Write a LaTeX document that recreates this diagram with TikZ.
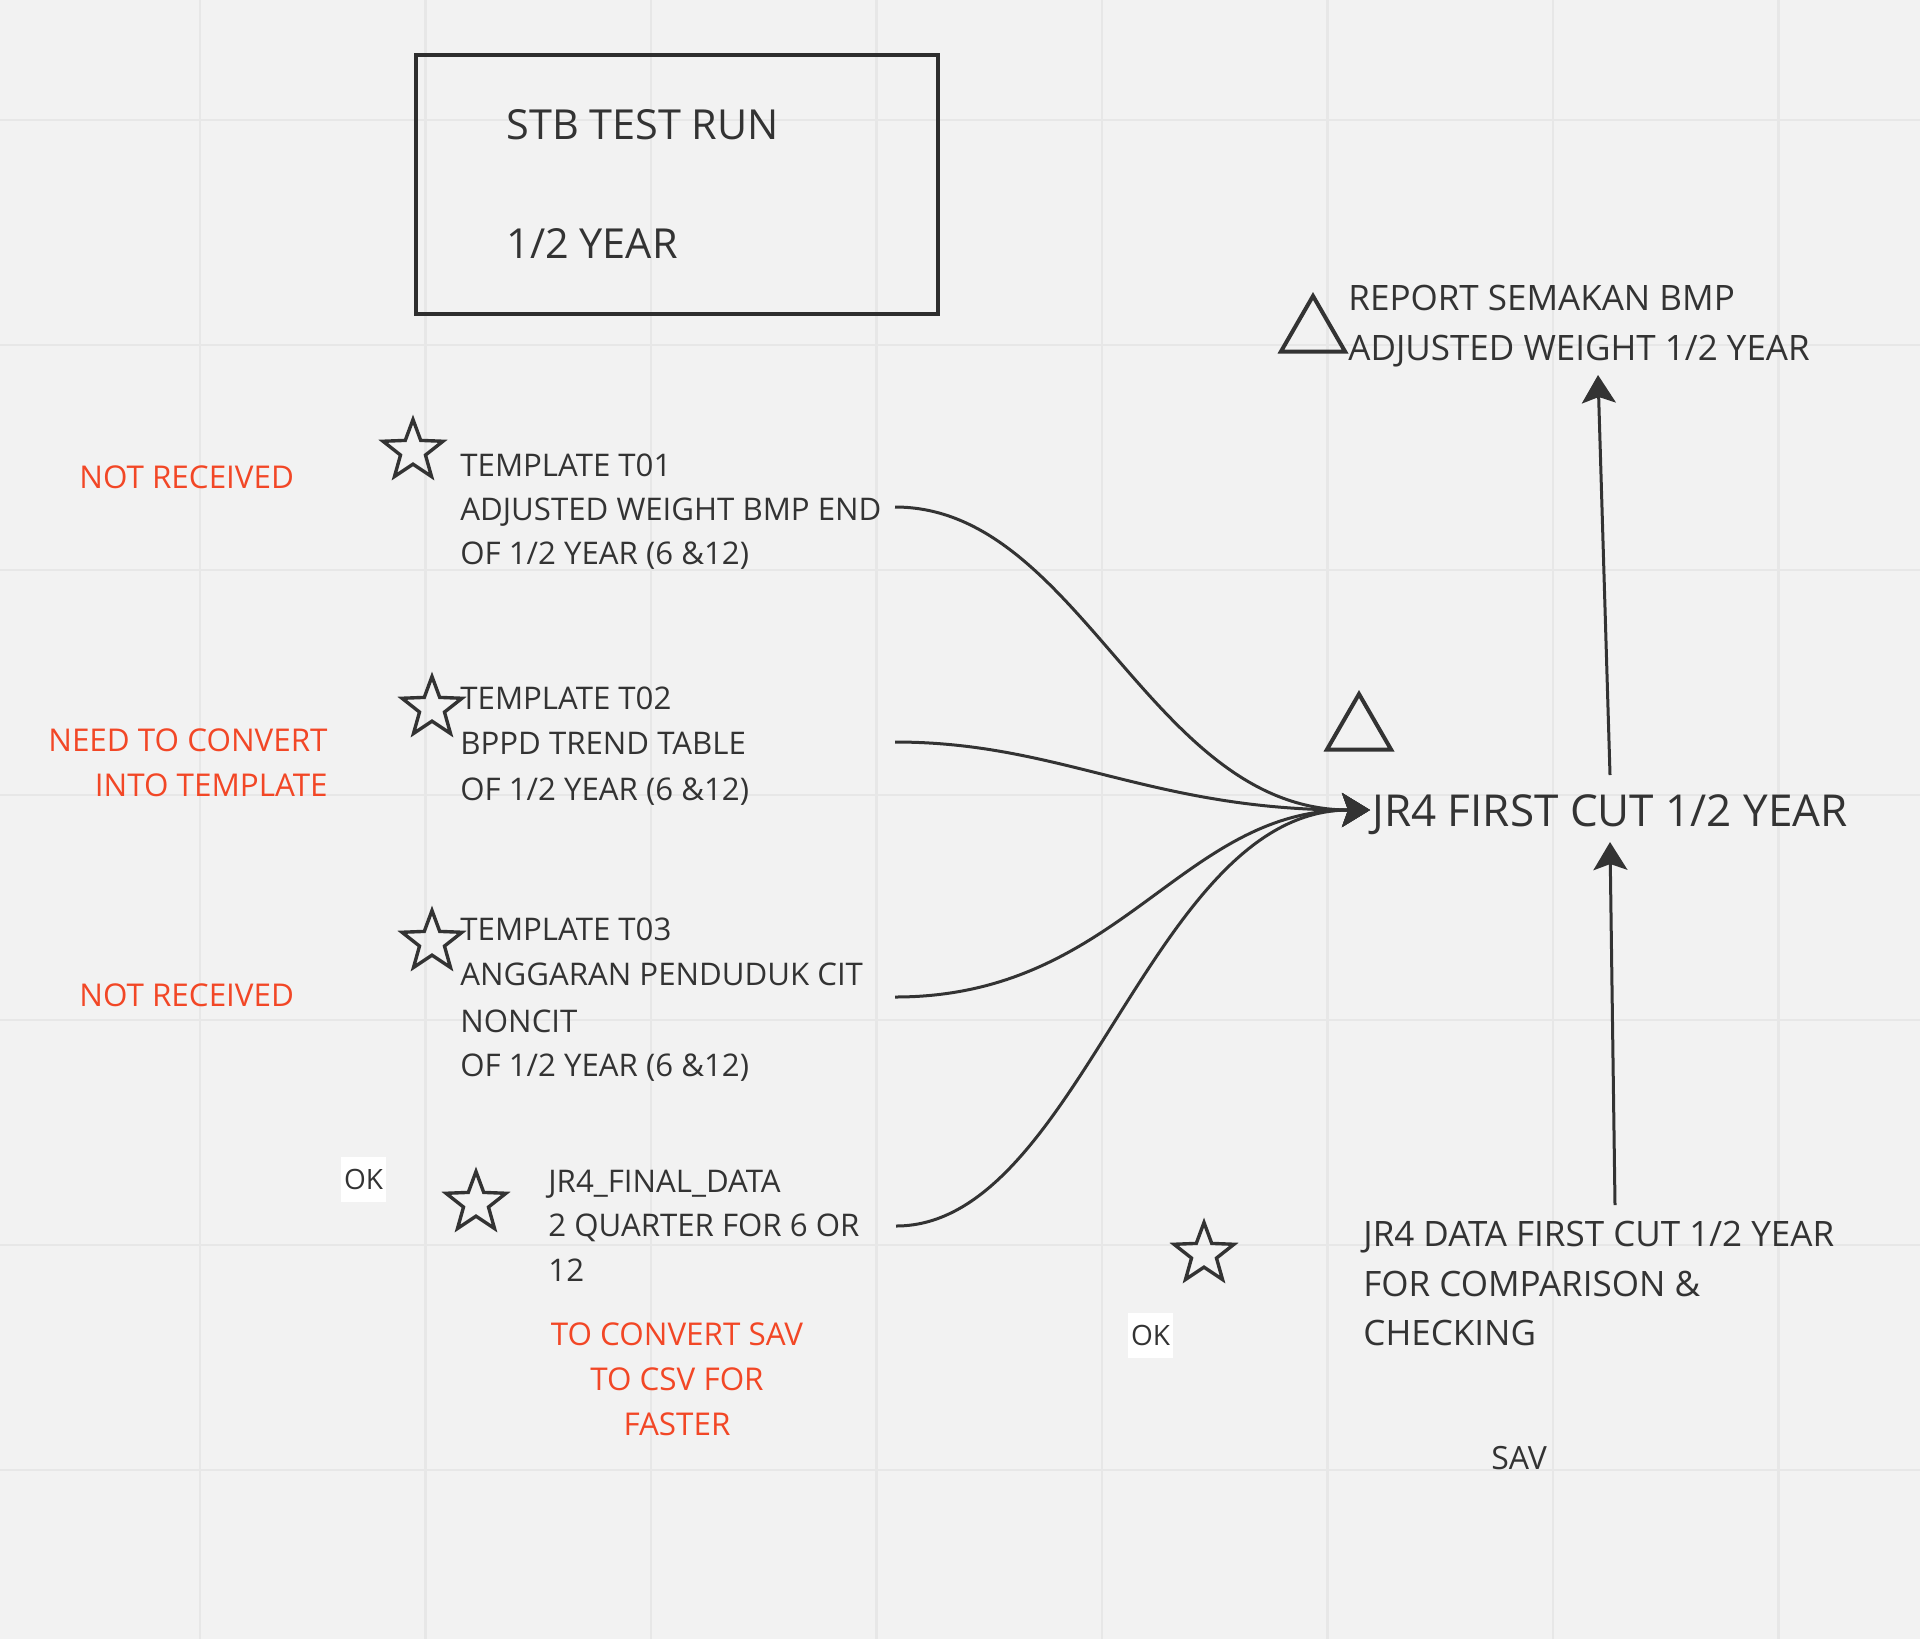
\documentclass[tikz,border=0pt]{standalone}
\usepackage{fontspec}
\setmainfont{Open Sans}
\usetikzlibrary{shapes.geometric,arrows.meta}
\definecolor{bgc}{HTML}{F2F2F2}
\definecolor{gridc}{HTML}{E7E7E7}
\definecolor{ink}{HTML}{333333}
\definecolor{warn}{HTML}{F24726}
\tikzset{
  txt/.style={anchor=base west, inner sep=0pt, text=ink, font=\fontsize{15.6pt}{18pt}\selectfont},
  bigtxt/.style={txt, font=\fontsize{17.5pt}{20pt}\selectfont},
  redtxt/.style={inner sep=0pt, text=warn, font=\fontsize{15.7pt}{18pt}\selectfont},
  starmark/.style={draw=ink, shape=star, star points=5, star point ratio=2.4, minimum size=31.5pt, inner sep=0pt, line width=1.7pt},
  trimark/.style={draw=ink, regular polygon, regular polygon sides=3, minimum size=37pt, inner sep=0pt, line width=2pt},
  okbox/.style={fill=white, inner sep=0pt, minimum width=22.5pt, minimum height=22.5pt, text=ink, font=\fontsize{14pt}{16pt}\selectfont},
  link/.style={draw=ink, line width=1.5pt, -{Stealth[length=14pt,width=17pt,inset=3pt]}}
}
\begin{document}
\begin{tikzpicture}[x=0.5pt,y=-0.5pt]
\fill[bgc] (0,0) rectangle (1920,1639);
\useasboundingbox (0,0) rectangle (1920,1639);
% grid
\foreach \gx in {200,425.5,651,876.5,1102,1327.5,1553,1778.5}
  \draw[gridc, line width=1.2pt] (\gx,0) -- (\gx,1639);
\foreach \gy in {120,345,570,795,1020,1245,1470}
  \draw[gridc, line width=1.2pt] (0,\gy) -- (1920,\gy);

% title box
\node (titlebox) [draw=ink!90!black, line width=2pt, minimum width=261pt, minimum height=129.5pt, inner sep=0pt] at (677,184.5) {};
\node (title1) [txt, font=\fontsize{20.7pt}{24pt}\selectfont] at (506,139) {STB TEST RUN};
\node (title2) [txt, font=\fontsize{20.7pt}{24pt}\selectfont] at (506,258) {1/2 YEAR};

% red notes
\node (nr1) [redtxt, anchor=base west] at (79,488) {NOT RECEIVED};
\node (nc1) [redtxt, anchor=base east] at (328,751) {NEED TO CONVERT};
\node (nc2) [redtxt, anchor=base east] at (328,796) {INTO TEMPLATE};
\node (nr2) [redtxt, anchor=base west] at (79,1006) {NOT RECEIVED};
\node (cv1) [redtxt, anchor=base] at (677,1345) {TO CONVERT SAV};
\node (cv2) [redtxt, anchor=base] at (677,1390) {TO CSV FOR};
\node (cv3) [redtxt, anchor=base] at (677,1435) {FASTER};

% stars
\node (s1) [starmark] at (413,451) {};
\node (s2) [starmark] at (432,708) {};
\node (s3) [starmark] at (432,942) {};
\node (s4) [starmark] at (476,1203) {};
\node (s5) [starmark] at (1204,1254) {};

% OK labels
\node (ok1) [okbox] at (363.5,1179.5) {OK};
\node (ok2) [okbox] at (1150.5,1335) {OK};

% template T01
\node (t1a) [txt] at (460,476) {TEMPLATE T01};
\node (t1b) [txt] at (460,520) {ADJUSTED WEIGHT BMP END};
\node (t1c) [txt] at (460,564) {OF 1/2 YEAR (6 \&12)};
% template T02
\node (t2a) [txt] at (460,709) {TEMPLATE T02};
\node (t2b) [txt] at (460,754) {BPPD TREND TABLE};
\node (t2c) [txt] at (460,800) {OF 1/2 YEAR (6 \&12)};
% template T03
\node (t3a) [txt] at (460,940) {TEMPLATE T03};
\node (t3b) [txt] at (460,985) {ANGGARAN PENDUDUK CIT};
\node (t3c) [txt] at (460,1032) {NONCIT};
\node (t3d) [txt] at (460,1076) {OF 1/2 YEAR (6 \&12)};
% JR4 final data
\node (f1) [txt] at (548,1192) {JR4\_FINAL\_DATA};
\node (f2) [txt] at (548,1236) {2 QUARTER FOR 6 OR};
\node (f3) [txt] at (548,1281) {12};

% right side
\node (tri1) [trimark] at (1313,333) {};
\node (rep1) [bigtxt] at (1348,310) {REPORT SEMAKAN BMP};
\node (rep2) [bigtxt] at (1348,360) {ADJUSTED WEIGHT 1/2 YEAR};
\node (tri2) [trimark] at (1359,731) {};
\node (main) [txt, font=\fontsize{22pt}{26pt}\selectfont] at (1372,826) {JR4 FIRST CUT 1/2 YEAR};
\node (d1) [bigtxt] at (1363,1246) {JR4 DATA FIRST CUT 1/2 YEAR};
\node (d2) [bigtxt] at (1363,1296) {FOR COMPARISON \&};
\node (d3) [bigtxt] at (1363,1345) {CHECKING};
\node (sav) [txt, font=\fontsize{16pt}{18pt}\selectfont] at (1491,1469) {SAV};

% connector end points
\coordinate (in) at (1370,810);
\coordinate (o1) at (895,507);
\coordinate (o2) at (895,742);
\coordinate (o3) at (895,997);
\coordinate (o4) at (896,1226);
\coordinate (upfrom) at (1610,775);
\coordinate (upto) at (1598,375);
\coordinate (dfrom) at (1615,1205);
\coordinate (dto) at (1610,842);

\draw[link] (o1) .. controls (1080,507) and (1150,810) .. (in);
\draw[link] (o2) .. controls (1060,742) and (1150,810) .. (in);
\draw[link] (o3) .. controls (1120,997) and (1180,810) .. (in);
\draw[link] (o4) .. controls (1080,1226) and (1150,810) .. (in);
\draw[link] (upfrom) -- (upto);
\draw[link] (dfrom) -- (dto);
\end{tikzpicture}
\end{document}
